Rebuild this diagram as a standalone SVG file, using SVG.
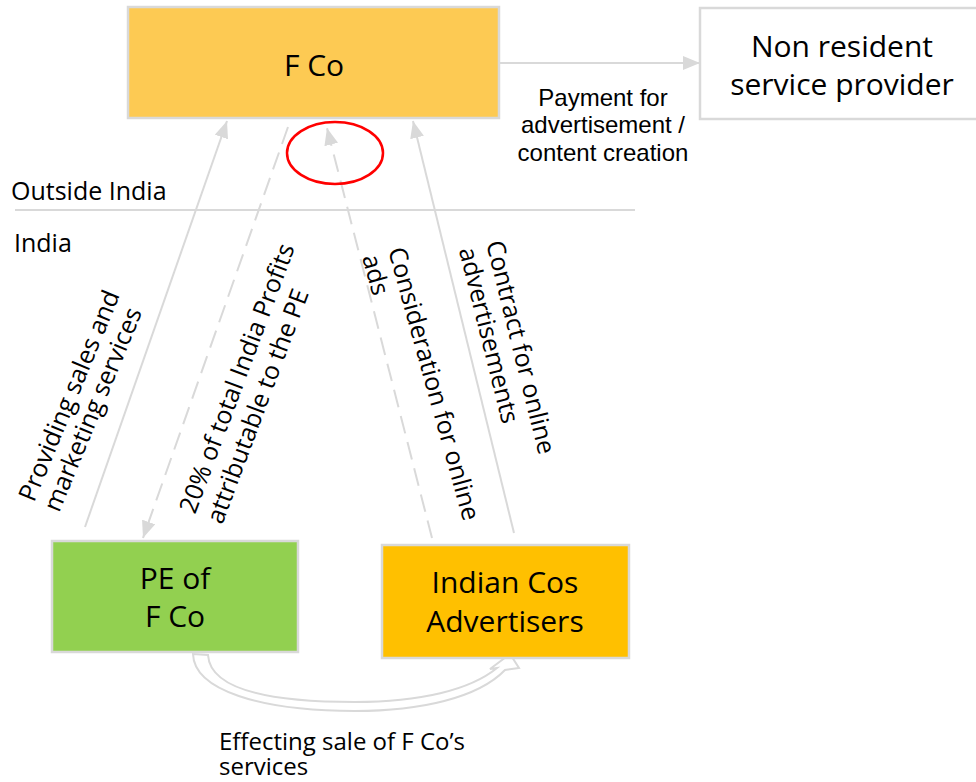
<svg xmlns="http://www.w3.org/2000/svg" width="976" height="782" viewBox="0 0 976 782">
<style>
.t{font-family:"Open Sans","Noto Sans",sans-serif;font-size:24px;fill:#000}
.r{font-size:25px}
.big{font-size:30px}
.ar{font-family:"Liberation Sans",Arial,sans-serif;font-size:24px;fill:#000}
.box{stroke:#d9d9d9;stroke-width:2.5}
.ln{stroke:#d9d9d9;stroke-width:2;fill:none}
.dash{stroke-dasharray:18 9}
</style>
<defs>
<marker id="ah" markerUnits="userSpaceOnUse" markerWidth="18" markerHeight="14" viewBox="0 0 18 14" refX="17" refY="7" orient="auto">
<path d="M0,0 L17,7 L0,14 Z" fill="#d9d9d9"/>
</marker>
</defs>
<rect width="976" height="782" fill="#fff"/>

<g id="boundary">
<line x1="15" y1="210" x2="635" y2="210" class="ln"/>
<text class="t r" x="11" y="200">Outside India</text>
<text class="t r" x="14" y="252">India</text>
</g>

<g id="connectors">
<line x1="499" y1="63" x2="700" y2="63" class="ln" marker-end="url(#ah)"/>
<line x1="85" y1="527" x2="227" y2="121" class="ln" marker-end="url(#ah)"/>
<line x1="288" y1="127" x2="143" y2="538" class="ln dash" marker-end="url(#ah)"/>
<line x1="432" y1="538" x2="327" y2="128" class="ln dash" marker-end="url(#ah)"/>
<line x1="514" y1="533" x2="413" y2="121" class="ln" marker-end="url(#ah)"/>
<path d="M193,654 C194,690 260,711 355,711 C420,711 478,698 505,670 L519,668 L510,654 L490,669 L497,668 C470,690 420,702 355,702 C265,702 210,688 208,655 Z" fill="#fff" stroke="#d9d9d9" stroke-width="2"/>
<ellipse cx="335" cy="153" rx="48" ry="31" fill="none" stroke="#ff0000" stroke-width="2.5"/>
<text class="ar" text-anchor="middle" x="603" y="106">Payment for</text>
<text class="ar" text-anchor="middle" x="603" y="133">advertisement /</text>
<text class="ar" text-anchor="middle" x="603" y="161">content creation</text>
<text class="t r" transform="translate(34,503) rotate(-67.5)">Providing sales and<tspan x="0" dy="27">marketing services</tspan></text>
<text class="t r" transform="translate(195,515) rotate(-69.5)">20% of total India Profits<tspan x="0" dy="29">attributable to the PE</tspan></text>
<text class="t r" transform="translate(388,250) rotate(74.5)">Consideration for online<tspan x="0" dy="27">ads</tspan></text>
<text class="t r" transform="translate(486,243) rotate(76)">Contract for online<tspan x="0" dy="28">advertisements</tspan></text>
<text class="t" x="219" y="750">Effecting sale of F Co’s<tspan x="219" dy="25">services</tspan></text>
</g>

<g id="fco">
<rect x="128" y="7" width="371" height="111" fill="#fdca53" class="box"/>
<text class="t big" text-anchor="middle" x="314" y="76">F Co</text>
</g>

<g id="nonresident">
<rect x="700" y="8" width="280" height="111" fill="#fff" class="box"/>
<text class="t big" text-anchor="middle" x="842" y="57">Non resident</text>
<text class="t big" text-anchor="middle" x="842" y="95">service provider</text>
</g>

<g id="pe">
<rect x="52" y="541" width="246" height="111" fill="#92d050" class="box"/>
<text class="t big" text-anchor="middle" x="175" y="589">PE of</text>
<text class="t big" text-anchor="middle" x="175" y="627">F Co</text>
</g>

<g id="indiancos">
<rect x="382" y="545" width="247" height="113" fill="#ffc000" class="box"/>
<text class="t big" text-anchor="middle" x="505" y="593">Indian Cos</text>
<text class="t big" text-anchor="middle" x="505" y="632">Advertisers</text>
</g>
</svg>
